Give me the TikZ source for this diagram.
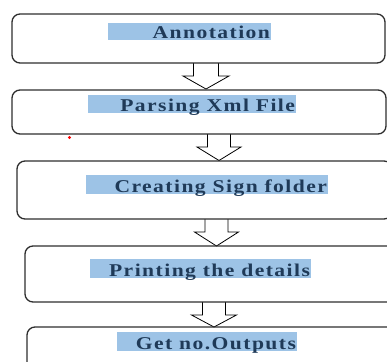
\documentclass[tikz,border=0pt]{standalone}
\usepackage{fontspec}
\setmainfont{Liberation Serif}
\newfontfamily\lblfont[LetterSpace=8,FakeStretch=1.2]{Liberation Serif}
\definecolor{boxgray}{HTML}{2E2E2E}
\definecolor{hlblue}{HTML}{9DC3E6}
\definecolor{txtblue}{HTML}{1F3A58}
\newcommand\blockarr[6]{%
  \draw[arrline] ({#1-#5},#2) -- ({#1-#5},#3) -- ({#1-#6},#3) -- (#1,#4) -- ({#1+#6},#3) -- ({#1+#5},#3) -- ({#1+#5},#2);}
\begin{document}
\begin{tikzpicture}[x=1pt,y=-1pt,
  stepbox/.style={draw=boxgray, line width=1.3pt, rounded corners=8pt, inner sep=0pt},
  hl/.style={fill=hlblue, inner sep=0pt},
  lbl/.style={font=\lblfont\bfseries\fontsize{18}{21}\selectfont, text=txtblue, inner sep=0pt, anchor=base east, xshift=-1pt, yshift=2pt},
  arrline/.style={draw=black, line width=0.8pt, fill=white, line join=miter}]
\useasboundingbox (0,0) rectangle (387,361);
\clip (0,0) rectangle (387,361);
% arrows
\blockarr{206}{63}{76}{89}{12.5}{23}
\blockarr{219}{134}{147}{160.5}{11.5}{22}
\blockarr{216.5}{219}{232}{246}{11.5}{22}
\blockarr{214}{302}{315}{327}{11.5}{22.5}
% boxes
\node[stepbox, minimum width=373, minimum height=49] (b1) at (198.5,38.5) {};
\node[stepbox, minimum width=374, minimum height=44] (b2) at (199,112) {};
\node[stepbox, minimum width=375, minimum height=58] (b3) at (204.5,190) {};
\node[stepbox, minimum width=370, minimum height=56] (b4) at (210,274) {};
\node[stepbox, minimum width=368, minimum height=53] (b5) at (211,353.5) {};
% highlights
\node[hl, minimum width=163, minimum height=17] (h1) at (189.5,31.5) {};
\node[hl, minimum width=208, minimum height=18] (h2) at (192,104) {};
\node[hl, minimum width=242, minimum height=19] (h3) at (207,184.5) {};
\node[hl, minimum width=221, minimum height=19] (h4) at (200.5,268.5) {};
\node[hl, minimum width=180, minimum height=19] (h5) at (207,341.5) {};
% labels
\node[lbl] (t1) at (h1.south east) {Annotation};
\node[lbl] (t2) at (h2.south east) {Parsing Xml File};
\node[lbl] (t3) at (h3.south east) {Creating Sign folder};
\node[lbl] (t4) at (h4.south east) {Printing the details};
\node[lbl] (t5) at (h5.south east) {Get no.Outputs};
% stray red dot
\fill[red] (69.5,137.5) circle (1.7);
\end{tikzpicture}
\end{document}
